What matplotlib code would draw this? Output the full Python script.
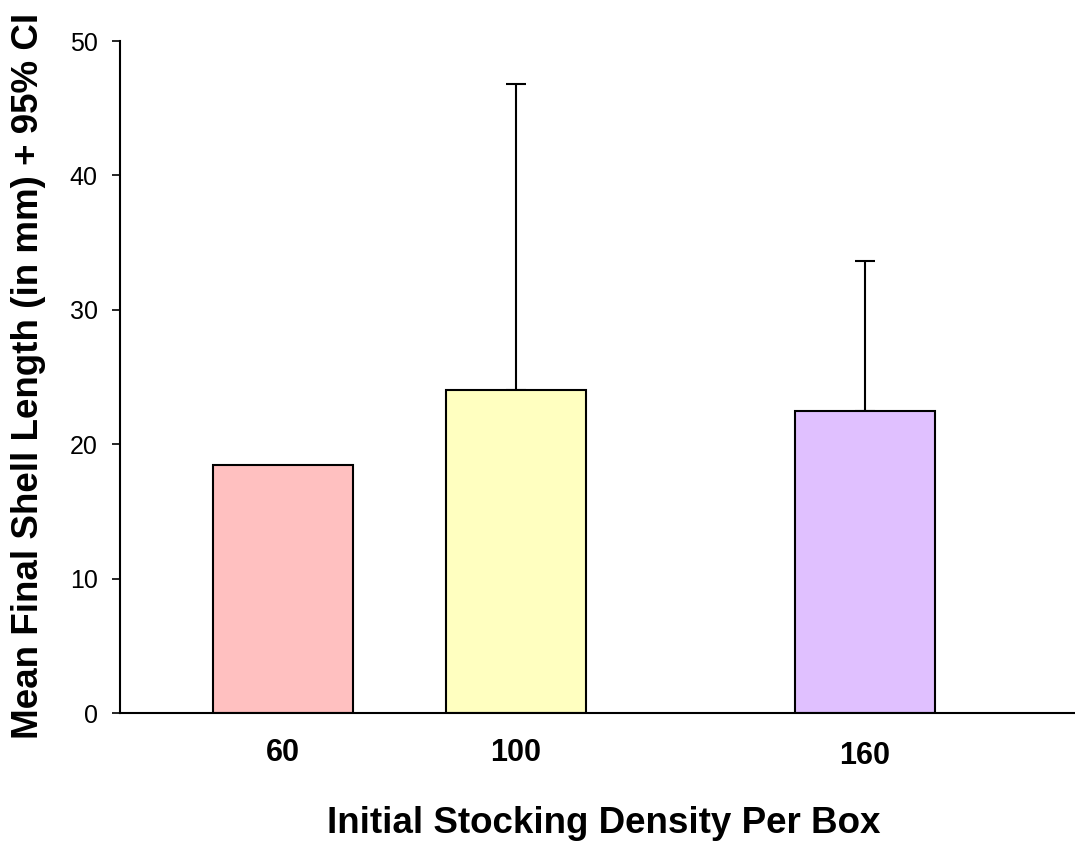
import matplotlib.pyplot as plt
import matplotlib.transforms as mtransforms

# data
densities = [60, 100, 160]
mean_length = [18.45, 24.0, 22.5]
ci_upper = [0.0, 22.8, 11.1]
bar_colors = ['#FFC0C0', '#FFFFC0', '#E0C0FF']

plt.rcParams['font.family'] = ['Liberation Sans', 'DejaVu Sans']

fig = plt.figure(figsize=(10.75, 8.42), dpi=100)
ax = fig.add_axes([0.1116, 0.1532, 0.888, 0.7981])

ax.bar(densities, mean_length, width=24, color=bar_colors, edgecolor='black', linewidth=1.5, zorder=2)
ax.errorbar(densities[1:], mean_length[1:], yerr=[[0, 0], ci_upper[1:]], fmt='none',
            ecolor='black', elinewidth=1.5, capsize=7, capthick=1.5, zorder=1)

ax.set_xlim(32, 196)
ax.set_ylim(0, 50)
ax.set_yticks([0, 10, 20, 30, 40, 50])
ax.tick_params(axis='y', labelsize=18, length=6, width=1.2, pad=10)
ax.set_xticks(densities)
ax.set_xticklabels([str(d) for d in densities], fontsize=22, fontweight='bold')
ax.tick_params(axis='x', length=0, pad=18)
# the 160 label sits slightly lower in the original
lab = ax.get_xticklabels()[2]
lab.set_transform(lab.get_transform() + mtransforms.ScaledTranslation(0, -3 / 100, fig.dpi_scale_trans))

for s in ['top', 'right']:
    ax.spines[s].set_visible(False)
ax.spines['left'].set_linewidth(1.5)
ax.spines['bottom'].set_linewidth(1.5)

ax.set_xlabel('Initial Stocking Density Per Box', fontsize=26.5, fontweight='bold')
ax.xaxis.set_label_coords(0.507, -0.139)
ax.set_ylabel('Mean Final Shell Length (in mm) + 95% CI', fontsize=26.5, fontweight='bold')
ax.yaxis.set_label_coords(-0.077, 0.502)

fig.savefig('out.png', dpi=100)
